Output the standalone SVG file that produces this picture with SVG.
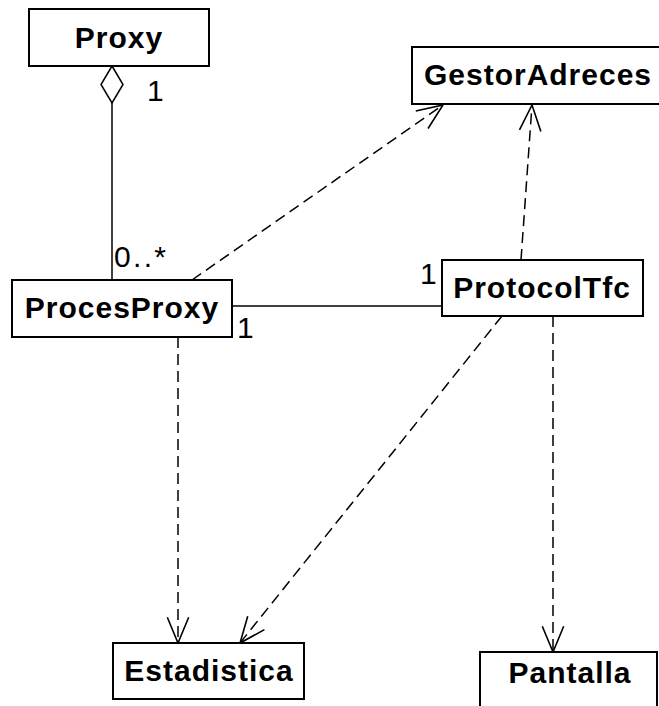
<svg xmlns="http://www.w3.org/2000/svg" width="659" height="706" viewBox="0 0 659 706">
<style>
.box{fill:#fff;stroke:#000;stroke-width:2}
.lbl{font-family:"Liberation Sans",Arial,sans-serif;font-weight:bold;font-size:30px;text-anchor:middle;fill:#000;letter-spacing:1px}
.mult{font-family:"Liberation Sans",Arial,sans-serif;font-size:30px;fill:#000}
.solid{fill:none;stroke:#000;stroke-width:1.5}
.dash{fill:none;stroke:#000;stroke-width:1.5;stroke-dasharray:11,6}
</style>
<defs>
<marker id="open" markerUnits="userSpaceOnUse" markerWidth="30" markerHeight="30" viewBox="-26 -13 28 26" refX="0" refY="0" orient="auto">
<path d="M-24,-10 L0,0 L-24,10" fill="none" stroke="#000" stroke-width="1.5"/>
</marker>
</defs>
<rect width="659" height="706" fill="#fff"/>
<g id="connectors">
<path class="solid" d="M112,103 L112,280"/>
<path d="M112,66 L123,84.5 L112,103 L101,84.5 Z" fill="#fff" stroke="#000" stroke-width="1.5"/>
<path class="solid" d="M232,306 L442,306"/>
<path class="dash" d="M192,280 L443,105" marker-end="url(#open)"/>
<path class="dash" d="M521,260 L532,105" marker-end="url(#open)"/>
<path class="dash" d="M178,337 L178,643" marker-end="url(#open)"/>
<path class="dash" d="M502,316 L240,643" marker-end="url(#open)"/>
<path class="dash" d="M553,316 L553,652" marker-end="url(#open)"/>
<text class="mult" x="147" y="101">1</text>
<text class="mult" x="114" y="267" textLength="52">0..*</text>
<text class="mult" x="420" y="284">1</text>
<text class="mult" x="237" y="338">1</text>
</g>
<g id="Proxy">
<rect class="box" x="29" y="9" width="180" height="57"/>
<text class="lbl" x="119" y="48">Proxy</text>
</g>
<g id="GestorAdreces">
<rect class="box" x="412" y="47" width="260" height="57"/>
<text class="lbl" x="538" y="85">GestorAdreces</text>
</g>
<g id="ProcesProxy">
<rect class="box" x="12" y="280" width="220" height="57"/>
<text class="lbl" x="122" y="318">ProcesProxy</text>
</g>
<g id="ProtocolTfc">
<rect class="box" x="442" y="260" width="201" height="56"/>
<text class="lbl" x="542" y="298">ProtocolTfc</text>
</g>
<g id="Estadistica">
<rect class="box" x="113" y="643" width="191" height="56"/>
<text class="lbl" x="209" y="681">Estadistica</text>
</g>
<g id="Pantalla">
<rect class="box" x="480" y="652" width="177" height="70"/>
<text class="lbl" x="570" y="683">Pantalla</text>
</g>
</svg>
